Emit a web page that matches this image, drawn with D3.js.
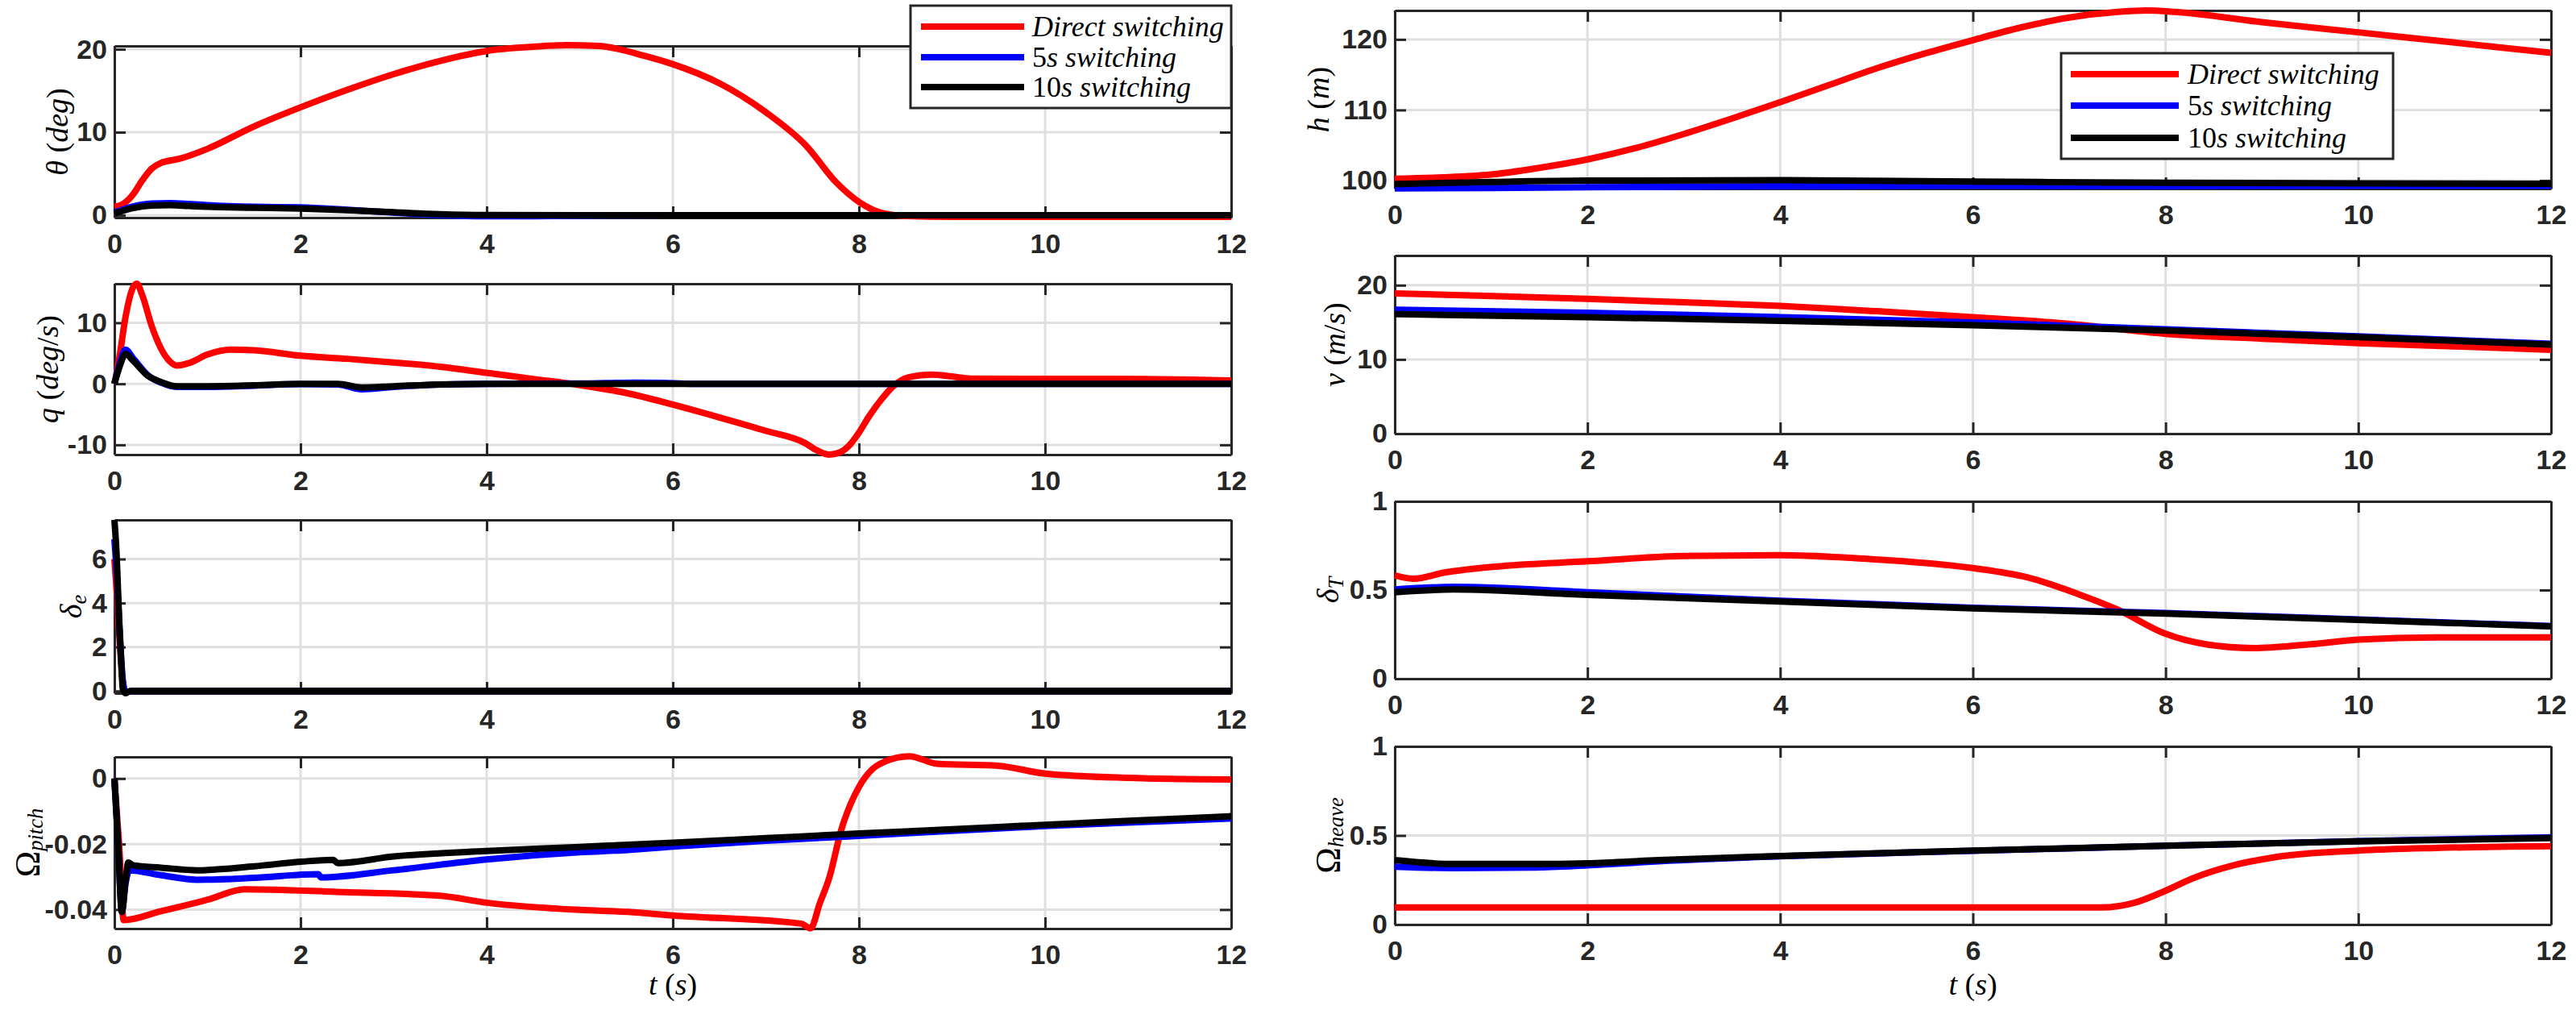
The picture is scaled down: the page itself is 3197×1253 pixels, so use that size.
<!DOCTYPE html>
<html>
<head>
<meta charset="utf-8">
<script src="https://cdn.jsdelivr.net/npm/d3@7"></script>
<style>
  html, body { margin: 0; padding: 0; background: #fff; }
  svg { display: block; }
  .axis text { font-family: 'Liberation Sans', Arial, sans-serif; font-size: 34px; font-weight: bold; fill: #262626; }
  .axis path, .axis line { stroke: #262626; stroke-width: 3px; }
  .math { font-family: 'Liberation Serif', 'DejaVu Serif', serif; fill: #000; }
</style>
</head>
<body>
<svg id="chart" width="3197" height="1253"></svg>
<script>
const timeTicks = [0, 2, 4, 6, 8, 10, 12]
const seriesNames = ['Direct switching', '5s switching', '10s switching']
const seriesColors = ['#ff0000', '#0000ff', '#000000']

// pitch angle theta (deg)
const thetaTicks = [0, 10, 20]
const thetaDirect = [[0, 1.0], [0.1, 1.4], [0.2, 2.5], [0.3, 4.2], [0.4, 5.6], [0.5, 6.3], [0.7, 6.8], [1.0, 8.0], [1.5, 10.7], [2, 13.0], [2.5, 15.1], [3, 17.0], [3.5, 18.6], [4, 19.8], [4.5, 20.3], [4.85, 20.5], [5.2, 20.4], [5.7, 19.2], [6, 18.2], [6.5, 15.9], [7, 12.4], [7.43, 8.4], [7.76, 3.9], [8, 1.6], [8.22, 0.35], [8.5, -0.1], [9, -0.2], [10, -0.2], [11, -0.2], [12, -0.2]]
const theta5s = [[0, 0.3], [0.2, 1.05], [0.4, 1.4], [0.6, 1.45], [0.8, 1.35], [1, 1.2], [1.5, 1.0], [2, 0.95], [2.5, 0.65], [3, 0.3], [3.5, 0.0], [4, -0.12], [4.5, -0.12], [5, -0.05], [6, 0], [8, 0], [10, 0], [12, 0]]
const theta10s = [[0, 0.2], [0.2, 0.85], [0.4, 1.15], [0.6, 1.2], [0.8, 1.1], [1, 1.0], [1.5, 0.9], [2, 0.8], [2.5, 0.6], [3, 0.35], [3.5, 0.12], [4, 0.02], [5, 0], [6, 0], [8, 0], [10, 0], [12, 0]]

// pitch rate q (deg/s)
const qTicks = [-10, 0, 10]
const qDirect = [[0, 0], [0.05, 4], [0.12, 11], [0.2, 15.8], [0.24, 16.4], [0.3, 14.5], [0.4, 9.5], [0.5, 5.8], [0.6, 3.6], [0.67, 3.0], [0.8, 3.4], [1.0, 4.8], [1.25, 5.6], [1.5, 5.5], [2, 4.6], [2.5, 4.1], [3, 3.5], [3.5, 2.8], [4, 1.8], [4.5, 0.8], [5, -0.2], [5.5, -1.5], [6, -3.4], [6.5, -5.5], [7, -7.7], [7.42, -9.7], [7.55, -10.9], [7.68, -11.6], [7.8, -11.2], [7.89, -10.2], [8.0, -8.0], [8.11, -5.3], [8.25, -2.4], [8.36, -0.5], [8.54, 1.1], [8.78, 1.5], [9.0, 1.2], [9.2, 0.85], [9.8, 0.8], [10.7, 0.8], [12, 0.55]]
const q5s = [[0, 0], [0.06, 3.5], [0.12, 5.6], [0.2, 4.2], [0.36, 1.4], [0.5, 0.2], [0.67, -0.5], [1, -0.5], [1.5, -0.3], [2, -0.05], [2.4, -0.1], [2.66, -0.9], [3, -0.5], [3.5, -0.1], [4, 0], [5, 0.05], [5.6, 0.2], [5.9, 0.15], [6.2, 0], [8, 0], [10, 0], [12, 0]]
const q10s = [[0, 0], [0.06, 3.0], [0.12, 4.9], [0.2, 3.8], [0.36, 1.3], [0.5, 0.3], [0.67, -0.4], [1, -0.4], [1.5, -0.25], [2, 0], [2.4, 0], [2.66, -0.6], [3, -0.4], [3.5, -0.1], [4, 0], [6, 0], [8, 0], [10, 0], [12, 0]]

// elevator deflection delta_e
const deltaETicks = [0, 2, 4, 6]
const deltaEDirect = [[0, 6.0], [0.03, 4.2], [0.06, 2.0], [0.09, 0.4], [0.12, -0.05], [0.2, 0], [12, 0]]
const deltaE5s = [[0, 6.9], [0.03, 5.0], [0.06, 2.4], [0.09, 0.5], [0.12, -0.05], [0.2, 0], [12, 0]]
const deltaE10s = [[0, 7.78], [0.02, 6.5], [0.053, 3.05], [0.075, 1.2], [0.09, 0.1], [0.12, -0.1], [0.17, 0], [12, 0]]

// Omega_pitch
const pitchTicks = [-0.04, -0.02, 0]
const pitchDirect = [[0, 0], [0.05, -0.02], [0.1, -0.0432], [0.5, -0.0405], [1.0, -0.037], [1.4, -0.0338], [2.39, -0.0346], [3.5, -0.0358], [4, -0.0379], [5, -0.0401], [5.52, -0.0407], [6, -0.0418], [7.38, -0.0443], [7.48, -0.0457], [7.58, -0.038], [7.68, -0.0304], [7.81, -0.0157], [8.0, -0.0026], [8.15, 0.003], [8.28, 0.0052], [8.54, 0.0068], [8.84, 0.0045], [9.49, 0.0039], [10, 0.0015], [10.9, 0.0002], [12, -0.0003]]
const pitch5s = [[0, 0], [0.04, -0.02], [0.08, -0.0407], [0.12, -0.032], [0.16, -0.028], [0.5, -0.0295], [0.89, -0.0309], [1.5, -0.0303], [2.19, -0.0292], [2.22, -0.0302], [3, -0.028], [4, -0.0247], [5, -0.0225], [5.52, -0.0218], [6, -0.0208], [7, -0.019], [8, -0.0175], [9, -0.016], [10, -0.0145], [11, -0.0133], [12, -0.0122]]
const pitch10s = [[0, 0], [0.04, -0.02], [0.08, -0.0407], [0.12, -0.031], [0.15, -0.0256], [0.2, -0.0265], [0.5, -0.0272], [0.89, -0.028], [1.5, -0.0268], [2, -0.0254], [2.35, -0.0248], [2.4, -0.0258], [3, -0.0238], [4, -0.0221], [5, -0.0209], [5.52, -0.0202], [6, -0.0196], [7, -0.0182], [8, -0.0168], [9, -0.0155], [10, -0.0141], [11, -0.0128], [12, -0.0115]]

// altitude h (m)
const hTicks = [100, 110, 120]
const hDirect = [[0, 100.27], [0.5, 100.45], [1, 100.85], [1.5, 101.8], [2, 103.0], [2.5, 104.6], [3, 106.6], [3.5, 108.8], [4, 111.1], [4.5, 113.5], [5, 115.9], [5.5, 118.0], [6, 119.9], [6.5, 121.7], [7, 123.1], [7.5, 123.9], [7.8, 124.1], [8.1, 123.9], [9, 122.45], [10, 121.0], [11, 119.55], [12, 118.1]]
const h5s = [[0, 98.9], [1, 98.95], [2, 99.05], [4, 99.2], [6, 99.25], [8, 99.2], [10, 99.25], [12, 99.25]]
const h10s = [[0, 99.5], [1, 99.8], [2, 100.0], [4, 100.05], [6, 99.85], [8, 99.7], [10, 99.6], [12, 99.55]]

// velocity v (m/s)
const vTicks = [0, 10, 20]
const vDirect = [[0, 18.9], [1, 18.55], [2, 18.15], [3, 17.7], [4, 17.2], [5, 16.5], [6, 15.7], [7, 14.8], [8, 13.45], [9, 12.8], [10, 12.2], [11, 11.75], [12, 11.3]]
const v5s = [[0, 16.7], [2, 16.3], [4, 15.7], [6, 15.0], [8, 14.06], [10, 13.1], [12, 12.1]]
const v10s = [[0, 16.1], [2, 15.7], [4, 15.2], [6, 14.6], [8, 13.9], [10, 13.0], [12, 12.0]]

// throttle delta_T
const deltaTTicks = [0, 0.5, 1]
const deltaTDirect = [[0, 0.583], [0.19, 0.564], [0.53, 0.6], [1.04, 0.632], [2, 0.662], [3, 0.692], [4, 0.697], [4.87, 0.677], [6, 0.624], [6.57, 0.571], [7.08, 0.48], [7.5, 0.39], [8, 0.253], [8.44, 0.192], [8.91, 0.173], [9.46, 0.192], [10, 0.22], [10.8, 0.233], [12, 0.233]]
const deltaT5s = [[0, 0.503], [0.61, 0.518], [2, 0.488], [4, 0.44], [6, 0.4], [8, 0.37], [10, 0.334], [12, 0.297]]
const deltaT10s = [[0, 0.488], [0.61, 0.503], [2, 0.473], [4, 0.435], [6, 0.397], [8, 0.367], [10, 0.332], [12, 0.295]]

// Omega_heave
const heaveTicks = [0, 0.5, 1]
const heaveDirect = [[0, 0.096], [2, 0.096], [4, 0.096], [6, 0.096], [7.34, 0.096], [7.68, 0.123], [8, 0.19], [8.27, 0.257], [8.7, 0.332], [9.12, 0.377], [10, 0.415], [10.8, 0.43], [12, 0.44]]
const heave5s = [[0, 0.325], [0.61, 0.317], [1.46, 0.32], [2, 0.332], [2.74, 0.355], [4, 0.383], [6, 0.414], [8, 0.442], [10, 0.468], [12, 0.49]]
const heave10s = [[0, 0.362], [0.61, 0.34], [1.46, 0.34], [2, 0.344], [2.74, 0.362], [4, 0.385], [6, 0.415], [8, 0.442], [10, 0.467], [12, 0.485]]

const svg = d3.select('#chart')
const cols = [{ left: 142, right: 1528 }, { left: 1731, right: 3166 }]

// label parts: t = text, i = italic, s = subscript, b = bigger glyph
const panels = [
  { col: 0, top: 57, bottom: 270, domain: [-0.3, 20.4], ticks: thetaTicks, data: [thetaDirect, theta5s, theta10s],
    label: [{ t: 'θ', i: 1 }, { t: ' (' }, { t: 'deg', i: 1 }, { t: ')' }], labelX: 71 },
  { col: 0, top: 352, bottom: 564, domain: [-11.6, 16.4], ticks: qTicks, data: [qDirect, q5s, q10s],
    label: [{ t: 'q', i: 1 }, { t: ' (' }, { t: 'deg', i: 1 }, { t: '/' }, { t: 's', i: 1 }, { t: ')' }], labelX: 59 },
  { col: 0, top: 645, bottom: 860, domain: [-0.1, 7.78], ticks: deltaETicks, data: [deltaEDirect, deltaE5s, deltaE10s],
    label: [{ t: 'δ', i: 1 }, { t: 'e', i: 1, s: 1 }], labelX: 88 },
  { col: 0, top: 939, bottom: 1152, domain: [-0.0458, 0.0066], ticks: pitchTicks, data: [pitchDirect, pitch5s, pitch10s],
    label: [{ t: 'Ω', b: 1 }, { t: 'pitch', i: 1, s: 1 }], labelX: 34, xLabel: true },
  { col: 1, top: 13, bottom: 234, domain: [98.86, 124.1], ticks: hTicks, data: [hDirect, h5s, h10s],
    label: [{ t: 'h', i: 1 }, { t: ' (' }, { t: 'm', i: 1 }, { t: ')' }], labelX: 1636 },
  { col: 1, top: 317, bottom: 538, domain: [0, 24], ticks: vTicks, data: [vDirect, v5s, v10s],
    label: [{ t: 'v', i: 1 }, { t: ' (' }, { t: 'm', i: 1 }, { t: '/' }, { t: 's', i: 1 }, { t: ')' }], labelX: 1656 },
  { col: 1, top: 622, bottom: 842, domain: [0, 1], ticks: deltaTTicks, data: [deltaTDirect, deltaT5s, deltaT10s],
    label: [{ t: 'δ', i: 1 }, { t: 'T', i: 1, s: 1 }], labelX: 1648 },
  { col: 1, top: 926, bottom: 1147, domain: [0, 1], ticks: heaveTicks, data: [heaveDirect, heave5s, heave10s],
    label: [{ t: 'Ω', b: 1 }, { t: 'heave', i: 1, s: 1 }], labelX: 1648, xLabel: true }
]

function writeParts(text, parts, size) {
  let down = 0
  parts.forEach(p => {
    const span = text.append('tspan').text(p.t)
    if (p.i) span.attr('font-style', 'italic')
    if (p.b) span.attr('font-size', size * 1.15)
    if (p.s && !down) {
      span.attr('font-size', size * 0.7).attr('dy', size * 0.25)
      down = 1
    } else if (!p.s && down) {
      span.attr('dy', -size * 0.25)
      down = 0
    }
  })
}

panels.forEach((p, k) => {
  const c = cols[p.col]
  const x = d3.scaleLinear().domain([0, 12]).range([c.left, c.right])
  const y = d3.scaleLinear().domain(p.domain).range([p.bottom, p.top])
  const g = svg.append('g')

  // grid
  g.append('g').selectAll('line').data(timeTicks).join('line')
    .attr('x1', d => x(d)).attr('x2', d => x(d))
    .attr('y1', p.top).attr('y2', p.bottom)
    .attr('stroke', '#dfdfdf').attr('stroke-width', 3)
  g.append('g').selectAll('line').data(p.ticks).join('line')
    .attr('x1', c.left).attr('x2', c.right)
    .attr('y1', d => y(d)).attr('y2', d => y(d))
    .attr('stroke', '#dfdfdf').attr('stroke-width', 3)

  // box with inward ticks on all four sides
  g.append('g').attr('class', 'axis')
    .attr('transform', `translate(0,${p.bottom})`)
    .call(d3.axisBottom(x).tickValues(timeTicks).tickSize(-14).tickSizeOuter(0).tickPadding(20).tickFormat(d => String(d)))
  g.append('g').attr('class', 'axis')
    .attr('transform', `translate(0,${p.top})`)
    .call(d3.axisTop(x).tickValues(timeTicks).tickSize(-14).tickSizeOuter(0).tickFormat(''))
  g.append('g').attr('class', 'axis')
    .attr('transform', `translate(${c.left},0)`)
    .call(d3.axisLeft(y).tickValues(p.ticks).tickSize(-14).tickSizeOuter(0).tickPadding(9).tickFormat(d => String(d)))
  g.append('g').attr('class', 'axis')
    .attr('transform', `translate(${c.right},0)`)
    .call(d3.axisRight(y).tickValues(p.ticks).tickSize(-14).tickSizeOuter(0).tickFormat(''))
  g.selectAll('.axis text').attr('fill', '#262626')

  // series
  const clipId = 'clip' + k
  svg.append('clipPath').attr('id', clipId).append('rect')
    .attr('x', c.left - 6).attr('y', p.top - 6)
    .attr('width', c.right - c.left + 12).attr('height', p.bottom - p.top + 12)
  const line = d3.line().x(d => x(d[0])).y(d => y(d[1])).curve(d3.curveMonotoneX)
  g.append('g').attr('clip-path', `url(#${clipId})`)
    .selectAll('path').data(p.data).join('path')
    .attr('d', line)
    .attr('fill', 'none')
    .attr('stroke', (d, i) => seriesColors[i])
    .attr('stroke-width', 8)
    .attr('stroke-linejoin', 'round')

  // y label
  const cy = (p.top + p.bottom) / 2
  const yl = g.append('text').attr('class', 'math')
    .attr('transform', `translate(${p.labelX},${cy}) rotate(-90)`)
    .attr('text-anchor', 'middle').attr('dominant-baseline', 'central')
    .attr('font-size', 38)
  writeParts(yl, p.label, 38)

  if (p.xLabel) {
    const xl = g.append('text').attr('class', 'math')
      .attr('x', (c.left + c.right) / 2).attr('y', 1234)
      .attr('text-anchor', 'middle').attr('font-size', 38)
    writeParts(xl, [{ t: 't', i: 1 }, { t: ' (' }, { t: 's', i: 1 }, { t: ')' }], 38)
  }
})

// legends
const legends = [
  { x0: 1130, x1: 1528, y0: 7, y1: 134, rows: [33, 71, 108], lineX: [1143, 1271], textX: 1281 },
  { x0: 2558, x1: 2970, y0: 66, y1: 197, rows: [92, 131, 171], lineX: [2570, 2704], textX: 2715 }
]
legends.forEach(L => {
  const lg = svg.append('g')
  lg.append('rect')
    .attr('x', L.x0).attr('y', L.y0)
    .attr('width', L.x1 - L.x0).attr('height', L.y1 - L.y0)
    .attr('fill', '#fff').attr('stroke', '#262626').attr('stroke-width', 3)
  seriesNames.forEach((name, i) => {
    lg.append('line')
      .attr('x1', L.lineX[0]).attr('x2', L.lineX[1])
      .attr('y1', L.rows[i]).attr('y2', L.rows[i])
      .attr('stroke', seriesColors[i]).attr('stroke-width', 8)
    const t = lg.append('text').attr('class', 'math')
      .attr('x', L.textX).attr('y', L.rows[i])
      .attr('dominant-baseline', 'central').attr('font-size', 36)
    const m = name.match(/^(\d*)(.*)$/)
    if (m[1]) t.append('tspan').text(m[1])
    t.append('tspan').attr('font-style', 'italic').text(m[2])
  })
})
</script>
</body>
</html>
